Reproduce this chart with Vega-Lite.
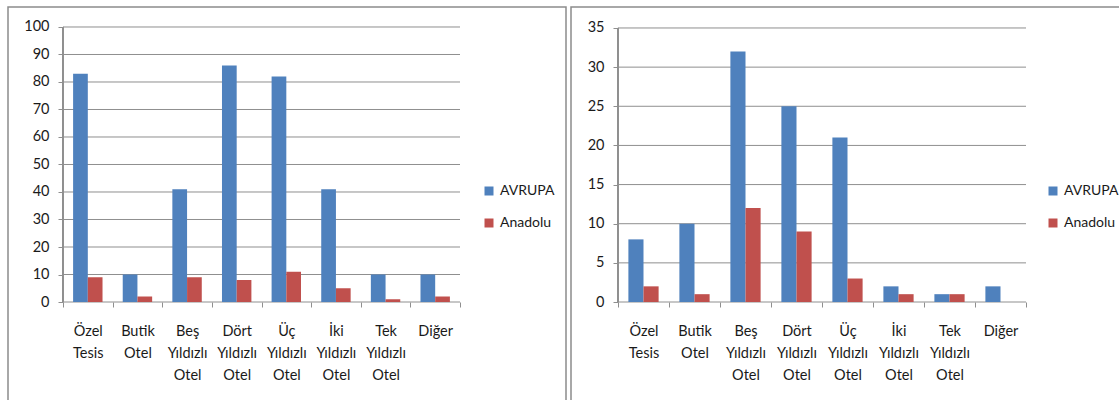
{
  "$schema": "https://vega.github.io/schema/vega-lite/v6.json",
  "padding": {"left": 7, "top": 6, "right": 0, "bottom": 0},
  "spacing": 3,
  "background": "white",
  "datasets": {
    "left": [
      {"kategori": "Özel Tesis", "bolge": "AVRUPA", "deger": 83},
      {"kategori": "Özel Tesis", "bolge": "Anadolu", "deger": 9},
      {"kategori": "Butik Otel", "bolge": "AVRUPA", "deger": 10},
      {"kategori": "Butik Otel", "bolge": "Anadolu", "deger": 2},
      {"kategori": "Beş Yıldızlı Otel", "bolge": "AVRUPA", "deger": 41},
      {"kategori": "Beş Yıldızlı Otel", "bolge": "Anadolu", "deger": 9},
      {"kategori": "Dört Yıldızlı Otel", "bolge": "AVRUPA", "deger": 86},
      {"kategori": "Dört Yıldızlı Otel", "bolge": "Anadolu", "deger": 8},
      {"kategori": "Üç Yıldızlı Otel", "bolge": "AVRUPA", "deger": 82},
      {"kategori": "Üç Yıldızlı Otel", "bolge": "Anadolu", "deger": 11},
      {"kategori": "İki Yıldızlı Otel", "bolge": "AVRUPA", "deger": 41},
      {"kategori": "İki Yıldızlı Otel", "bolge": "Anadolu", "deger": 5},
      {"kategori": "Tek Yıldızlı Otel", "bolge": "AVRUPA", "deger": 10},
      {"kategori": "Tek Yıldızlı Otel", "bolge": "Anadolu", "deger": 1},
      {"kategori": "Diğer", "bolge": "AVRUPA", "deger": 10},
      {"kategori": "Diğer", "bolge": "Anadolu", "deger": 2}
    ],
    "right": [
      {"kategori": "Özel Tesis", "bolge": "AVRUPA", "deger": 8},
      {"kategori": "Özel Tesis", "bolge": "Anadolu", "deger": 2},
      {"kategori": "Butik Otel", "bolge": "AVRUPA", "deger": 10},
      {"kategori": "Butik Otel", "bolge": "Anadolu", "deger": 1},
      {"kategori": "Beş Yıldızlı Otel", "bolge": "AVRUPA", "deger": 32},
      {"kategori": "Beş Yıldızlı Otel", "bolge": "Anadolu", "deger": 12},
      {"kategori": "Dört Yıldızlı Otel", "bolge": "AVRUPA", "deger": 25},
      {"kategori": "Dört Yıldızlı Otel", "bolge": "Anadolu", "deger": 9},
      {"kategori": "Üç Yıldızlı Otel", "bolge": "AVRUPA", "deger": 21},
      {"kategori": "Üç Yıldızlı Otel", "bolge": "Anadolu", "deger": 3},
      {"kategori": "İki Yıldızlı Otel", "bolge": "AVRUPA", "deger": 2},
      {"kategori": "İki Yıldızlı Otel", "bolge": "Anadolu", "deger": 1},
      {"kategori": "Tek Yıldızlı Otel", "bolge": "AVRUPA", "deger": 1},
      {"kategori": "Tek Yıldızlı Otel", "bolge": "Anadolu", "deger": 1},
      {"kategori": "Diğer", "bolge": "AVRUPA", "deger": 2},
      {"kategori": "Diğer", "bolge": "Anadolu", "deger": 0}
    ],
    "gridLeft": [{"v": 0}, {"v": 10}, {"v": 20}, {"v": 30}, {"v": 40}, {"v": 50}, {"v": 60}, {"v": 70}, {"v": 80}, {"v": 90}, {"v": 100}],
    "gridRight": [{"v": 0}, {"v": 5}, {"v": 10}, {"v": 15}, {"v": 20}, {"v": 25}, {"v": 30}, {"v": 35}]
  },
  "resolve": {
    "scale": {"x": "independent", "y": "independent", "xOffset": "independent", "color": "independent"},
    "axis": {"x": "independent", "y": "independent"},
    "legend": {"color": "independent"}
  },
  "hconcat": [
    {
      "width": 558,
      "height": 400,
      "layer": [
        {
          "data": {"name": "gridLeft"},
          "mark": {"type": "rule", "color": "#8f8f8f", "strokeWidth": 1},
          "encoding": {
            "y": {"field": "v", "type": "quantitative",
              "axis": {"title": null, "domain": false, "grid": false, "values": [0, 10, 20, 30, 40, 50, 60, 70, 80, 90, 100], "tickSize": 5, "tickColor": "#8f8f8f", "labelPadding": 9, "offset": -55}},
            "x": {"datum": "Özel Tesis", "bandPosition": 0, "type": "nominal",
              "axis": {"title": null, "domain": false, "grid": false, "tickBand": "extent", "tickSize": 5, "tickColor": "#8f8f8f", "labelAngle": 0, "labelExpr": "split(datum.label, ' ')", "labelLineHeight": 22, "labelPadding": 17, "labelOverlap": false, "offset": -105}},
            "x2": {"datum": "Diğer", "bandPosition": 1}
          }
        },
        {
          "data": {"name": "gridLeft"},
          "mark": {"type": "rule", "color": "#8f8f8f", "strokeWidth": 1},
          "encoding": {
            "x": {"datum": "Özel Tesis", "bandPosition": 0, "type": "nominal",
              "axis": {"title": null, "domain": false, "grid": false, "tickBand": "extent", "tickSize": 5, "tickColor": "#8f8f8f", "labelAngle": 0, "labelExpr": "split(datum.label, ' ')", "labelLineHeight": 22, "labelPadding": 17, "labelOverlap": false, "offset": -105}},
            "y": {"datum": 0, "type": "quantitative",
              "axis": {"title": null, "domain": false, "grid": false, "values": [0, 10, 20, 30, 40, 50, 60, 70, 80, 90, 100], "tickSize": 5, "tickColor": "#8f8f8f", "labelPadding": 9, "offset": -55}},
            "y2": {"datum": 100}
          }
        },
        {
          "data": {"name": "left"},
          "mark": {"type": "bar"},
          "encoding": {
            "x": {
              "field": "kategori", "type": "nominal",
              "scale": {"domain": ["Özel Tesis", "Butik Otel", "Beş Yıldızlı Otel", "Dört Yıldızlı Otel", "Üç Yıldızlı Otel", "İki Yıldızlı Otel", "Tek Yıldızlı Otel", "Diğer"], "paddingInner": 0, "paddingOuter": 0, "range": [55, 452]},
              "axis": {"title": null, "domain": false, "grid": false, "tickBand": "extent", "tickSize": 5, "tickColor": "#8f8f8f", "labelAngle": 0, "labelExpr": "split(datum.label, ' ')", "labelLineHeight": 22, "labelPadding": 17, "labelOverlap": false, "offset": -105}
            },
            "xOffset": {"field": "bolge", "type": "nominal", "scale": {"domain": ["AVRUPA", "Anadolu"], "paddingInner": 0, "paddingOuter": 0.687}},
            "y": {
              "field": "deger", "type": "quantitative",
              "scale": {"domain": [-38.18, 107.27], "nice": false, "zero": false},
              "axis": {"title": null, "domain": false, "grid": false, "values": [0, 10, 20, 30, 40, 50, 60, 70, 80, 90, 100], "tickSize": 5, "tickColor": "#8f8f8f", "labelPadding": 9, "offset": -55}
            },
            "y2": {"datum": 0},
            "color": {
              "field": "bolge", "type": "nominal",
              "scale": {"domain": ["AVRUPA", "Anadolu"], "range": ["#4F81BD", "#C0504D"]},
              "legend": {"orient": "none", "legendX": 474, "legendY": 177, "title": null}
            }
          }
        }
      ]
    },
    {
      "width": 558,
      "height": 400,
      "layer": [
        {
          "data": {"name": "gridRight"},
          "mark": {"type": "rule", "color": "#8f8f8f", "strokeWidth": 1},
          "encoding": {
            "y": {"field": "v", "type": "quantitative",
              "axis": {"title": null, "domain": false, "grid": false, "values": [0, 5, 10, 15, 20, 25, 30, 35], "tickSize": 5, "tickColor": "#8f8f8f", "labelPadding": 9, "offset": -47}},
            "x": {"datum": "Özel Tesis", "bandPosition": 0, "type": "nominal",
              "axis": {"title": null, "domain": false, "grid": false, "tickBand": "extent", "tickSize": 5, "tickColor": "#8f8f8f", "labelAngle": 0, "labelExpr": "split(datum.label, ' ')", "labelLineHeight": 22, "labelPadding": 17, "labelOverlap": false, "offset": -105}},
            "x2": {"datum": "Diğer", "bandPosition": 1}
          }
        },
        {
          "data": {"name": "gridRight"},
          "mark": {"type": "rule", "color": "#8f8f8f", "strokeWidth": 1},
          "encoding": {
            "x": {"datum": "Özel Tesis", "bandPosition": 0, "type": "nominal",
              "axis": {"title": null, "domain": false, "grid": false, "tickBand": "extent", "tickSize": 5, "tickColor": "#8f8f8f", "labelAngle": 0, "labelExpr": "split(datum.label, ' ')", "labelLineHeight": 22, "labelPadding": 17, "labelOverlap": false, "offset": -105}},
            "y": {"datum": 0, "type": "quantitative",
              "axis": {"title": null, "domain": false, "grid": false, "values": [0, 5, 10, 15, 20, 25, 30, 35], "tickSize": 5, "tickColor": "#8f8f8f", "labelPadding": 9, "offset": -47}},
            "y2": {"datum": 35}
          }
        },
        {
          "data": {"name": "right"},
          "mark": {"type": "bar"},
          "encoding": {
            "x": {
              "field": "kategori", "type": "nominal",
              "scale": {"domain": ["Özel Tesis", "Butik Otel", "Beş Yıldızlı Otel", "Dört Yıldızlı Otel", "Üç Yıldızlı Otel", "İki Yıldızlı Otel", "Tek Yıldızlı Otel", "Diğer"], "paddingInner": 0, "paddingOuter": 0, "range": [47, 455]},
              "axis": {"title": null, "domain": false, "grid": false, "tickBand": "extent", "tickSize": 5, "tickColor": "#8f8f8f", "labelAngle": 0, "labelExpr": "split(datum.label, ' ')", "labelLineHeight": 22, "labelPadding": 17, "labelOverlap": false, "offset": -105}
            },
            "xOffset": {"field": "bolge", "type": "nominal", "scale": {"domain": ["AVRUPA", "Anadolu"], "paddingInner": 0, "paddingOuter": 0.687}},
            "y": {
              "field": "deger", "type": "quantitative",
              "scale": {"domain": [-13.41, 37.68], "nice": false, "zero": false},
              "axis": {"title": null, "domain": false, "grid": false, "values": [0, 5, 10, 15, 20, 25, 30, 35], "tickSize": 5, "tickColor": "#8f8f8f", "labelPadding": 9, "offset": -47}
            },
            "y2": {"datum": 0},
            "color": {
              "field": "bolge", "type": "nominal",
              "scale": {"domain": ["AVRUPA", "Anadolu"], "range": ["#4F81BD", "#C0504D"]},
              "legend": {"orient": "none", "legendX": 475, "legendY": 177, "title": null}
            }
          }
        }
      ]
    }
  ],
  "config": {
    "font": "Lato",
    "view": {"stroke": "#8c8c8c", "strokeWidth": 1.5},
    "axis": {"labelFont": "Lato", "labelFontSize": 14.5, "labelColor": "#1a1a1a"},
    "legend": {"labelFont": "Lato", "labelFontSize": 14, "labelColor": "#1a1a1a", "symbolType": "square", "symbolSize": 81, "symbolStrokeWidth": 0, "rowPadding": 18, "labelOffset": 4, "padding": 0}
  }
}
